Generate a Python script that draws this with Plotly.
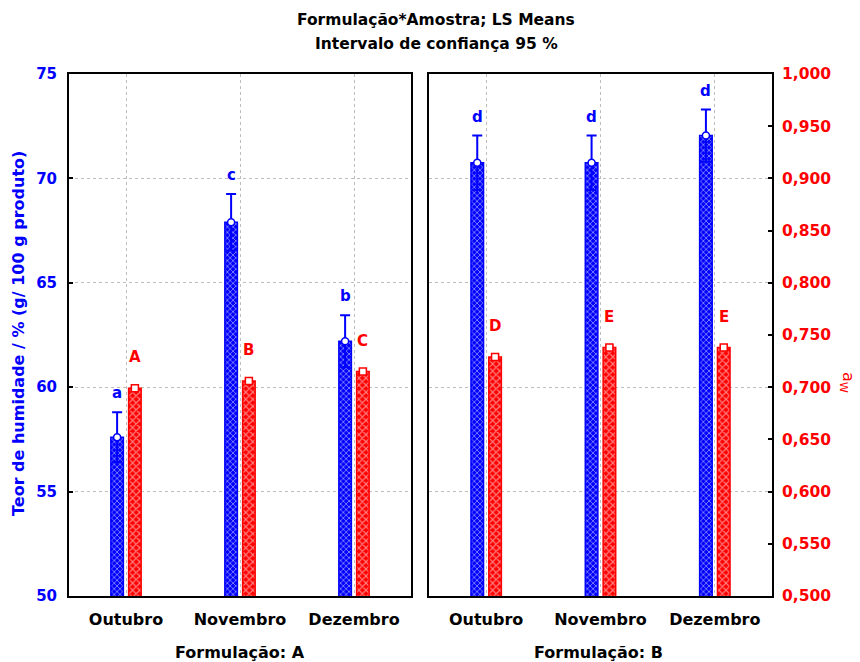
import plotly.graph_objects as go

# ---------------- data ----------------
months = ["Outubro", "Novembro", "Dezembro"]
panel_titles = ["Formulação: A", "Formulação: B"]

humidity_A = [57.6, 67.9, 62.2]
humidity_A_err = [1.2, 1.35, 1.25]
humidity_B = [70.75, 70.75, 72.05]
humidity_B_err = [1.3, 1.3, 1.25]

aw_A = [0.699, 0.706, 0.715]
aw_A_err = [0.002, 0.002, 0.002]
aw_B = [0.729, 0.738, 0.738]
aw_B_err = [0.002, 0.002, 0.002]

hum_letters_A = ["a", "c", "b"]
hum_letters_B = ["d", "d", "d"]
aw_letters_A = ["A", "B", "C"]
aw_letters_B = ["D", "E", "E"]

# ---------------- styles ----------------
BLUE = "#0000ff"
RED = "#ff0000"
GRID = "#bdbdbd"
FONT = "DejaVu Sans"
OFF = 0.078
BW = 0.11

L, R, T, B = 69, 88, 74, 66
W, H = 860, 662
PW = W - L - R
PH = H - T - B


def px_x(px):
    return (px - L) / PW


def px_y(py):
    return (H - B - py) / PH


fig = go.Figure()

panels = [
    dict(xa="x", yh="y", ya="y2", hum=humidity_A, herr=humidity_A_err,
         aw=aw_A, aerr=aw_A_err, hl=hum_letters_A, al=aw_letters_A),
    dict(xa="x2", yh="y3", ya="y4", hum=humidity_B, herr=humidity_B_err,
         aw=aw_B, aerr=aw_B_err, hl=hum_letters_B, al=aw_letters_B),
]

annotations = []
for p in panels:
    xb = [i - OFF for i in range(len(months))]
    xr = [i + OFF for i in range(len(months))]
    fig.add_trace(go.Bar(
        x=xb, y=p["hum"], width=BW, xaxis=p["xa"], yaxis=p["yh"],
        marker=dict(color=BLUE, line=dict(color=BLUE, width=1.5),
                    pattern=dict(shape="x", fgcolor="white", bgcolor=BLUE,
                                 size=4, solidity=0.4)),
        showlegend=False, hoverinfo="skip"))
    fig.add_trace(go.Scatter(
        x=xb, y=p["hum"], mode="markers", xaxis=p["xa"], yaxis=p["yh"],
        marker=dict(symbol="circle", size=7, color="white",
                    line=dict(color=BLUE, width=1.5)),
        error_y=dict(type="data", array=p["herr"], color=BLUE,
                     thickness=2, width=5),
        showlegend=False, hoverinfo="skip"))
    fig.add_trace(go.Bar(
        x=xr, y=p["aw"], width=BW, xaxis=p["xa"], yaxis=p["ya"],
        marker=dict(color=RED, line=dict(color=RED, width=1.5),
                    pattern=dict(shape="x", fgcolor="white", bgcolor=RED,
                                 size=5, solidity=0.4)),
        showlegend=False, hoverinfo="skip"))
    fig.add_trace(go.Scatter(
        x=xr, y=p["aw"], mode="markers", xaxis=p["xa"], yaxis=p["ya"],
        marker=dict(symbol="square", size=7, color="white",
                    line=dict(color=RED, width=1.5)),
        error_y=dict(type="data", array=p["aerr"], color=RED,
                     thickness=1.5, width=4),
        showlegend=False, hoverinfo="skip"))
    for i in range(len(months)):
        annotations.append(dict(
            x=xb[i], y=p["hum"][i] + p["herr"][i], xref=p["xa"], yref=p["yh"],
            text=p["hl"][i], showarrow=False, yanchor="bottom", yshift=8,
            xanchor="center",
            font=dict(family=FONT, size=15, color=BLUE, weight="bold")))
        annotations.append(dict(
            x=xr[i], y=p["aw"][i], xref=p["xa"], yref=p["ya"],
            text=p["al"][i], showarrow=False, yanchor="bottom", yshift=20,
            xanchor="center",
            font=dict(family=FONT, size=15, color=RED, weight="bold")))

# titles
TITLE_FONT = dict(family=FONT, size=15.5, color="black", weight="bold")
annotations += [
    dict(x=px_x(436), y=px_y(20), xref="paper", yref="paper",
         xanchor="center", yanchor="middle",
         text="Formulação*Amostra; LS Means", showarrow=False,
         font=TITLE_FONT),
    dict(x=px_x(436), y=px_y(44), xref="paper", yref="paper",
         xanchor="center", yanchor="middle",
         text="Intervalo de confiança 95 %", showarrow=False,
         font=TITLE_FONT),
    dict(x=px_x(240), y=px_y(652), xref="paper", yref="paper",
         xanchor="center", yanchor="middle",
         text=panel_titles[0], showarrow=False,
         font=dict(family=FONT, size=16, color="black", weight="bold")),
    dict(x=px_x(598), y=px_y(652), xref="paper", yref="paper",
         xanchor="center", yanchor="middle",
         text=panel_titles[1], showarrow=False,
         font=dict(family=FONT, size=16, color="black", weight="bold")),
    dict(x=px_x(18), y=px_y(334), xref="paper", yref="paper", textangle=-90,
         xanchor="center", yanchor="middle",
         text="Teor de humidade / % (g/ 100 g produto)", showarrow=False,
         font=dict(family=FONT, size=16, color=BLUE, weight="bold")),
    dict(x=px_x(848), y=px_y(382), xref="paper", yref="paper", textangle=90,
         xanchor="center", yanchor="middle",
         text="a<sub>W</sub>", showarrow=False,
         font=dict(family=FONT, size=16, color=RED)),
]

x1_dom = [0, (411 - L) / PW]
x2_dom = [(429 - L) / PW, 1]

xcommon = dict(range=[-0.5, 2.5], tickvals=list(range(len(months))),
               ticktext=months, showgrid=True, gridcolor=GRID,
               griddash="3px,3px", gridwidth=1, showline=True,
               linecolor="black", linewidth=2, mirror=True, ticks="",
               zeroline=False, ticklabelstandoff=8,
               tickfont=dict(family=FONT, size=16, color="black",
                             weight="bold"))
hcommon = dict(range=[50, 75], dtick=5, tick0=50, showgrid=True,
               gridcolor=GRID, griddash="3px,3px", gridwidth=1,
               showline=True, linecolor="black", linewidth=2, mirror=True,
               zeroline=False)

fig.update_layout(
    width=W, height=H,
    margin=dict(l=L, r=R, t=T, b=B),
    paper_bgcolor="white", plot_bgcolor="white",
    separators=",.",
    barmode="overlay",
    showlegend=False,
    xaxis=dict(domain=x1_dom, anchor="y", **xcommon),
    xaxis2=dict(domain=x2_dom, anchor="y3", **xcommon),
    yaxis=dict(anchor="x", ticks="inside", ticklen=4, tickcolor="black",
               tickwidth=1.5, ticklabelstandoff=7,
               tickfont=dict(family=FONT, size=15, color=BLUE, weight="bold"),
               **hcommon),
    yaxis2=dict(anchor="x", overlaying="y", side="right", range=[0.5, 1.0],
                visible=False, showgrid=False),
    yaxis3=dict(anchor="x2", showticklabels=False, ticks="", **hcommon),
    yaxis4=dict(anchor="x2", overlaying="y3", side="right",
                range=[0.5, 1.0], dtick=0.05, tick0=0.5, tickformat=".3f",
                showgrid=False, zeroline=False, ticks="inside", ticklen=4,
                tickcolor="black", tickwidth=1.5, ticklabelstandoff=9,
                showline=False,
                tickfont=dict(family=FONT, size=15.5, color=RED,
                              weight="bold")),
    annotations=annotations,
)

fig.write_html("out.html")
